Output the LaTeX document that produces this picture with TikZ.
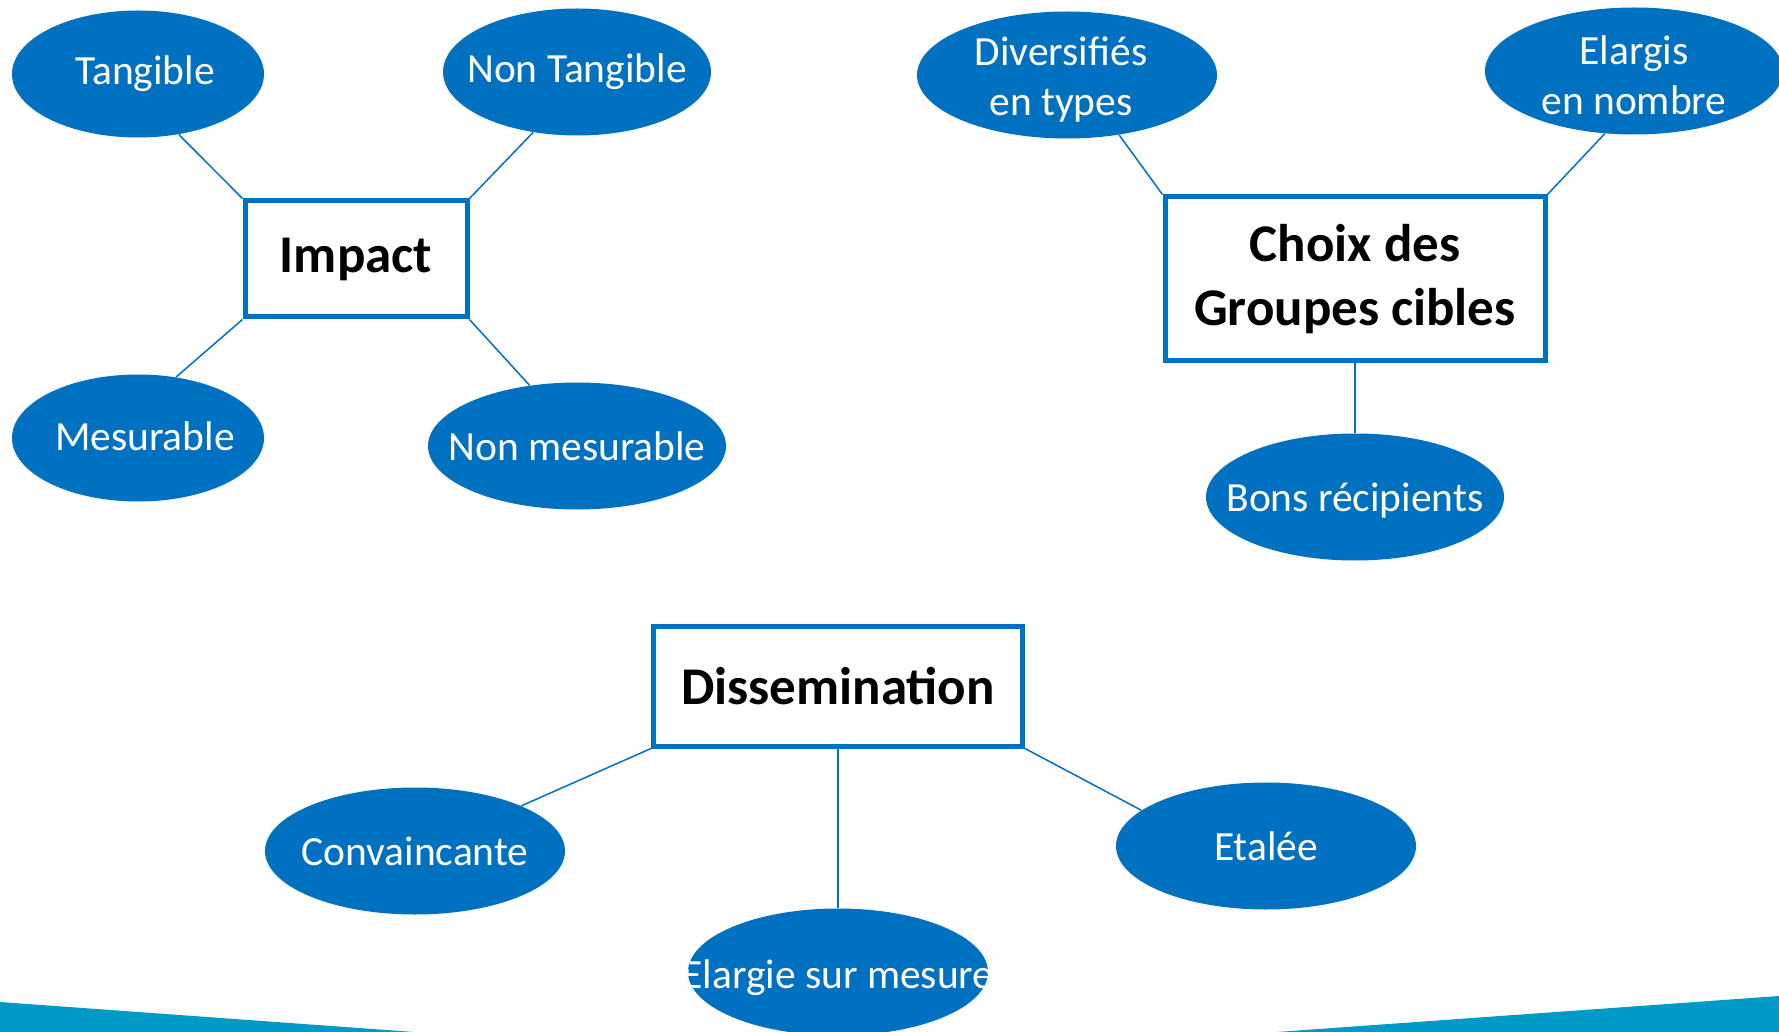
\documentclass[tikz,border=0pt]{standalone}
\usepackage{fontspec}
\setmainfont{Carlito}
\usetikzlibrary{shapes.geometric}
\definecolor{blueA}{HTML}{0070C0}
\definecolor{bandC}{HTML}{009AC7}
\def\bubxs{0pt}\def\bubys{0pt}
\begin{document}
\begin{tikzpicture}[x=0.5pt,y=-0.5pt,
  btext/.style={text=white, font=\fontsize{20.75}{25}\selectfont, align=center, inner sep=0pt},
  bub/.style={ellipse, fill=blueA, draw=none, inner sep=0pt, minimum height=63.5pt,
    path picture={\node[btext, xshift=\bubxs, yshift=\bubys] at (path picture bounding box.center) {#1};}},
  toff/.style 2 args={/utils/exec={\def\bubxs{#1}\def\bubys{#2}}},
  topic/.style={draw=blueA, line width=2.5pt, fill=white, inner sep=0pt,
    font=\fontsize{26.5}{32}\selectfont\bfseries, align=center},
  conn/.style={draw=blueA, line width=0.75pt}]
\useasboundingbox (0,0) rectangle (1779,1032);
% bottom bands
\fill[bandC] (0,1002) -- (414,1032) -- (0,1032) -- cycle;
\fill[bandC] (1779,996) -- (1779,1032) -- (1277,1032) -- cycle;
% central boxes
\node[topic, minimum width=111pt, minimum height=58pt] (imp) at (356,259) {Impact};
\node[topic, minimum width=190pt, minimum height=82pt] (cho) at (1355,279) {Choix des\\Groupes cibles};
\node[topic, minimum width=184.5pt, minimum height=60pt] (dis) at (838,686) {Dissemination};
% ellipses
\node[toff={3.5pt}{0pt}, bub={Tangible}, minimum width=126pt] (tan) at (138,74) {};
\node[bub={Non Tangible}, minimum width=134pt] (ntan) at (577,72) {};
\node[toff={3.5pt}{0.8pt}, bub={Mesurable}, minimum width=126pt] (mes) at (138,438) {};
\node[bub={Non mesurable}, minimum width=149pt] (nmes) at (577,446) {};
\node[toff={-3pt}{-2.2pt}, bub={Diversifiés\\en types}, minimum width=150pt] (div) at (1067,75) {};
\node[toff={0pt}{-2.2pt}, bub={Elargis\\en nombre}, minimum width=149pt] (ela) at (1634,71) {};
\node[toff={0pt}{-1.6pt}, bub={Bons récipients}, minimum width=149pt] (bons) at (1355,497) {};
\node[bub={Convaincante}, minimum width=150pt] (conv) at (415,851) {};
\node[bub={Etalée}, minimum width=150pt] (etal) at (1266,846) {};
\node[toff={0pt}{-2.8pt}, bub={Elargie sur mesure}, minimum width=150pt] (elm) at (838,972) {};
% connectors
\draw[conn] (imp.north west) -- (tan.-56);
\draw[conn] (imp.north east) -- (ntan.-126);
\draw[conn] (imp.south west) -- (mes.58);
\draw[conn] (imp.south east) -- (nmes.128);
\draw[conn] (cho.north west) -- (div.-49);
\draw[conn] (cho.north east) -- (ela.-115);
\draw[conn] (cho.south) -- (bons);
\draw[conn] (dis.south west) -- (conv.23);
\draw[conn] (dis.south east) -- (etal.164);
\draw[conn] (dis.south) -- (elm);
\end{tikzpicture}
\end{document}
